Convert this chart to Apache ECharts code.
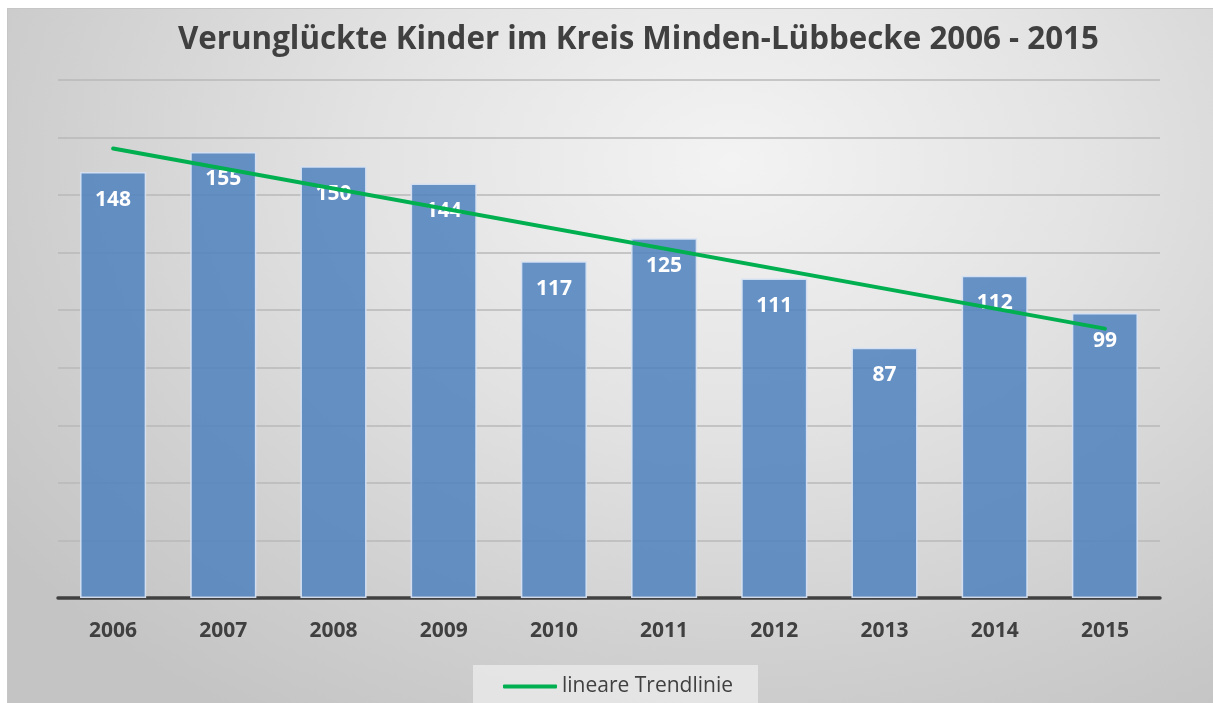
<!DOCTYPE html>
<html>
<head>
<meta charset="utf-8">
<script src="https://cdn.jsdelivr.net/npm/echarts@6/dist/echarts.min.js"></script>
<style>
  html, body { margin: 0; padding: 0; background: #ffffff; }
  #bg {
    position: absolute; left: 7px; top: 8px; width: 1206px; height: 695px;
    border-top: 1px solid #c6c6c6; border-left: 1px solid #c6c6c6; box-sizing: border-box;
    background: radial-gradient(ellipse 75% 95% at 60% 22%, #f3f3f3 0%, #e3e3e3 40%, #d0d0d0 75%, #c4c4c4 100%);
  }
  #chart { position: absolute; left: 0; top: 0; width: 1213px; height: 703px; }
</style>
</head>
<body>
<div id="bg"></div>
<div id="chart"></div>
<script>
// Daten
const years = ['2006', '2007', '2008', '2009', '2010', '2011', '2012', '2013', '2014', '2015']
const accidents = [148, 155, 150, 144, 117, 125, 111, 87, 112, 99]
// Trendlinie: Anfangs- und Endwert
const trendValues = [156.2, null, null, null, null, null, null, null, null, 93.6]

const myChart = echarts.init(document.getElementById('chart'))

const option = {
  backgroundColor: 'transparent',
  animation: false,
  textStyle: { fontFamily: 'Open Sans, sans-serif' },
  title: {
    text: 'Verunglückte Kinder im Kreis Minden-Lübbecke 2006 - 2015',
    left: 173,
    top: 20,
    textStyle: {
      color: '#404040',
      fontSize: 31.3,
      fontWeight: 'bold',
      fontFamily: 'Open Sans, sans-serif'
    }
  },
  legend: {
    data: [{ name: 'lineare Trendlinie', icon: 'roundRect' }],
    left: 473,
    top: 665,
    padding: [11, 25, 14, 30],
    backgroundColor: 'rgba(236,236,236,0.75)',
    itemWidth: 54,
    itemHeight: 4,
    itemGap: 5,
    textStyle: {
      color: '#404040',
      fontSize: 21,
      fontFamily: 'Open Sans, sans-serif'
    }
  },
  grid: {
    left: 58,
    right: 53,
    top: 80,
    bottom: 105,
    containLabel: false
  },
  xAxis: {
    type: 'category',
    data: years,
    axisLine: { lineStyle: { color: '#404040', width: 3.5 } },
    axisTick: { show: false },
    axisLabel: {
      color: '#404040',
      fontSize: 21,
      fontWeight: 'bold',
      margin: 23,
      fontFamily: 'Open Sans, sans-serif'
    }
  },
  yAxis: {
    type: 'value',
    min: 0,
    max: 180,
    interval: 20,
    axisLabel: { show: false },
    axisLine: { show: false },
    axisTick: { show: false },
    splitLine: { lineStyle: { color: '#b8b8b8', width: 1.5 } }
  },
  series: [
    {
      name: 'Verunglückte Kinder',
      type: 'bar',
      data: accidents,
      barWidth: '60%',
      itemStyle: {
        color: 'rgba(79,129,189,0.85)',
        borderColor: 'rgba(214,225,242,0.95)',
        borderWidth: 1.5
      },
      label: {
        show: true,
        position: 'insideTop',
        distance: 17,
        color: '#ffffff',
        fontSize: 21,
        fontWeight: 'bold',
        fontFamily: 'Open Sans, sans-serif'
      }
    },
    {
      name: 'lineare Trendlinie',
      type: 'line',
      data: trendValues,
      connectNulls: true,
      symbol: 'none',
      z: 10,
      lineStyle: { color: '#00b050', width: 4, cap: 'round' },
      itemStyle: { color: '#00b050' }
    }
  ]
}

myChart.setOption(option)
</script>
</body>
</html>
